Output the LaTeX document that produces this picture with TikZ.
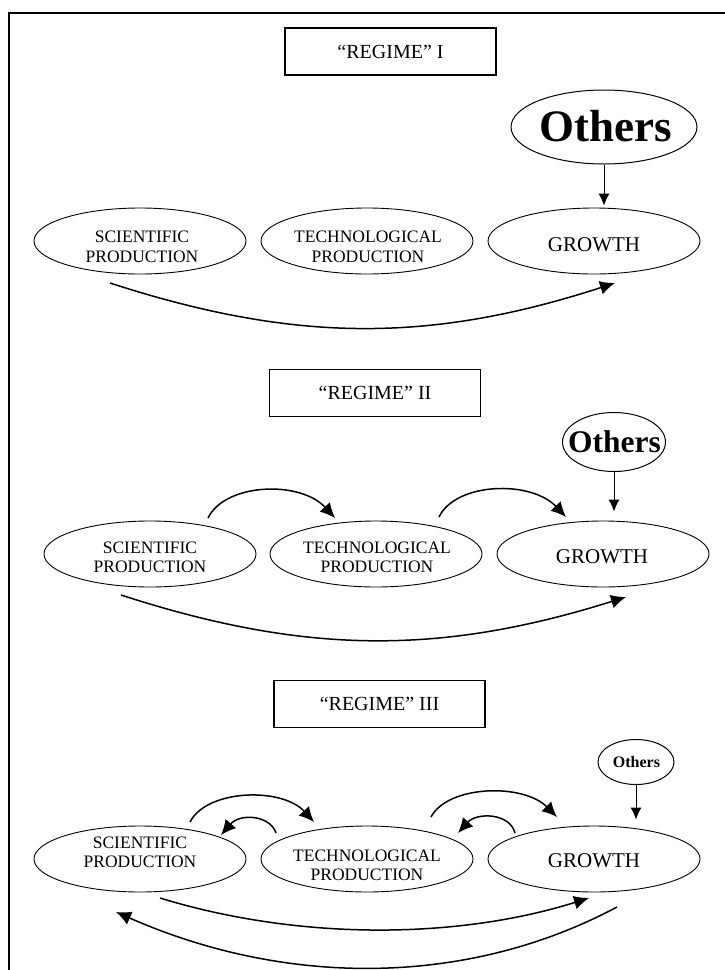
\documentclass[tikz,border=0pt]{standalone}
\usepackage{fontspec}
\setmainfont{Liberation Serif}
\usetikzlibrary{shapes.geometric,arrows.meta}
\begin{document}
\begin{tikzpicture}[x=1pt,y=-1pt,
  oval/.style={draw, ellipse, line width=0.9pt, minimum width=212pt, minimum height=66pt, inner sep=0pt},
  lbl/.style={align=center, font=\fontsize{17.5}{19.5}\selectfont, inner sep=0pt},
  glbl/.style={font=\fontsize{21}{24}\selectfont, inner sep=0pt},
  regbox/.style={draw, rectangle, line width=1.1pt, minimum width=211pt, minimum height=47pt, inner sep=0pt, font=\fontsize{20}{24}\selectfont},
  other/.style={draw, ellipse, line width=1pt, inner sep=0pt},
  arr/.style={line width=1.5pt, -{Latex[length=15pt,width=14pt]}},
  varr/.style={line width=1pt, -{Latex[length=12pt,width=11pt]}},
]
\useasboundingbox (0,0) rectangle (725,970);
\draw[line width=2.3pt] (8.7,970) -- (8.7,13) -- (725,13);

% ---------------- Regime I
\node[regbox] (r1) at (390.5,51.5) {“REGIME” I};
\node[other, minimum width=186pt, minimum height=74pt] (o1) at (604,127) {};
\node[font=\bfseries\fontsize{45}{50}\selectfont, inner sep=0pt] (o1t) at (606,126) {Others};
\node[oval] (s1) at (140,241) {};
\node[lbl] (s1t) at (142,247) {SCIENTIFIC\\PRODUCTION};
\node[oval] (t1) at (367,241) {};
\node[lbl] (t1t) at (368,247) {TECHNOLOGICAL\\PRODUCTION};
\node[oval] (g1) at (594,241) {};
\node[glbl] (g1t) at (594,245) {GROWTH};
\draw[varr, shorten >=2pt] (o1) -- (o1 |- g1.north);
\draw[arr] ([shift={(-30,42)}]s1.center) .. controls (295,343) and (430,343) .. ([shift={(21,42)}]g1.center);

% ---------------- Regime II
\node[regbox] (r2) at (375,393) {“REGIME” II};
\node[other, minimum width=103pt, minimum height=59pt] (o2) at (614,442) {};
\node[font=\bfseries\fontsize{31.5}{36}\selectfont, inner sep=0pt] (o2t) at (614.5,442) {Others};
\node[oval] (s2) at (150,554) {};
\node[lbl] (s2t) at (150,557.5) {SCIENTIFIC\\PRODUCTION};
\node[oval] (t2) at (376,554) {};
\node[lbl] (t2t) at (377,557.5) {TECHNOLOGICAL\\PRODUCTION};
\node[oval] (g2) at (603,554) {};
\node[glbl] (g2t) at (602,557) {GROWTH};
\draw[varr, shorten >=9pt] (o2) -- (o2 |- g2.north);
\draw[arr] ([shift={(58,-36)}]s2.center) .. controls (225,483) and (300,480) .. ([shift={(-41,-36)}]t2.center);
\draw[arr] ([shift={(63,-37)}]t2.center) .. controls (456,482) and (531,480) .. ([shift={(-37,-37)}]g2.center);
\draw[arr] ([shift={(-29,41)}]s2.center) .. controls (306,655) and (441,655) .. ([shift={(23,43)}]g2.center);

% ---------------- Regime III
\node[regbox] (r3) at (379.5,704) {“REGIME” III};
\node[other, minimum width=76pt, minimum height=45pt] (o3) at (636,762) {};
\node[font=\bfseries\fontsize{16}{19}\selectfont, inner sep=0pt] (o3t) at (636.5,762) {Others};
\node[oval] (s3) at (140,859) {};
\node[lbl] (s3t) at (140,852.5) {SCIENTIFIC\\PRODUCTION};
\node[oval] (t3) at (367,859) {};
\node[lbl] (t3t) at (367,865.5) {TECHNOLOGICAL\\PRODUCTION};
\node[oval] (g3) at (594,859) {};
\node[glbl] (g3t) at (594,861) {GROWTH};
\draw[varr, shorten >=6pt] (o3) -- (o3 |- g3.north);
\draw[arr] ([shift={(50,-37)}]s3.center) .. controls (207,789) and (282,787) .. ([shift={(-53,-37)}]t3.center);
\draw[arr] ([shift={(-91,-26)}]t3.center) .. controls (270,815) and (240,813) .. ([shift={(81,-24)}]s3.center);
\draw[arr] ([shift={(64,-42)}]t3.center) .. controls (448,785) and (523,783) .. ([shift={(-37,-42)}]g3.center);
\draw[arr] ([shift={(-79,-26)}]g3.center) .. controls (510,813) and (477,812) .. ([shift={(91,-26)}]t3.center);
\draw[arr] ([shift={(20,39)}]s3.center) .. controls (297,940) and (455,940) .. ([shift={(-5,39)}]g3.center);
\draw[arr] ([shift={(23,48)}]g3.center) .. controls (467,987) and (286,987) .. ([shift={(-24,53)}]s3.center);
\end{tikzpicture}
\end{document}
